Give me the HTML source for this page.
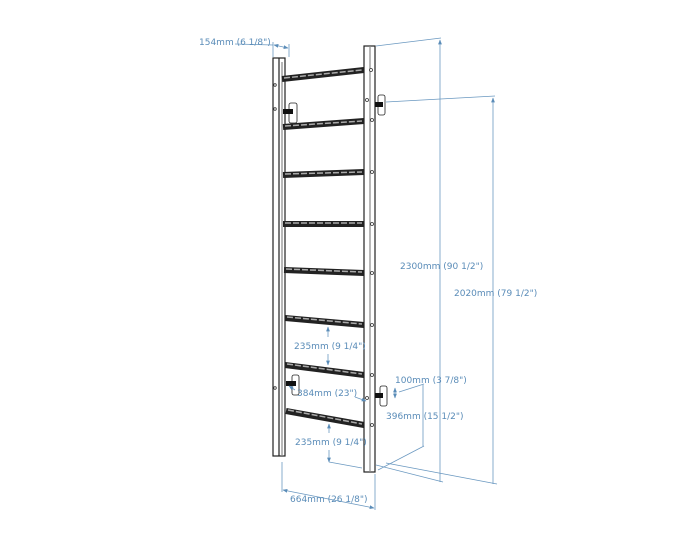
<!DOCTYPE html>
<html><head><meta charset="utf-8"><style>
html,body{margin:0;padding:0;background:#fff;width:687px;height:535px;overflow:hidden}
svg{display:block}
text{font-family:"DejaVu Sans","Liberation Sans",sans-serif;font-size:9px;fill:#5a8cb8}
</style></head><body>
<svg width="687" height="535" viewBox="0 0 687 535" xmlns="http://www.w3.org/2000/svg">
<defs>
<marker id="a" viewBox="0 0 10 10" refX="9" refY="5" markerWidth="6" markerHeight="6" orient="auto-start-reverse"><path d="M0,1 L10,5 L0,9 z" fill="#5a8cb8"/></marker>
</defs>
<g stroke="#222" fill="none" stroke-width="1.2">
<rect x="273" y="58" width="12" height="398" fill="#fff"/>
<line x1="279" y1="58" x2="279" y2="456"/>
<line x1="282" y1="62" x2="282" y2="456" stroke="#888"/>
<rect x="364" y="46" width="11" height="426" fill="#fff"/>
<line x1="370" y1="46" x2="370" y2="472" stroke="#888"/>
</g>
<g fill="#fff" stroke="#333" stroke-width="0.8">
<circle cx="371" cy="70" r="1.5"/><circle cx="372" cy="120" r="1.5"/><circle cx="372" cy="172" r="1.5"/><circle cx="372" cy="224" r="1.5"/><circle cx="372" cy="273" r="1.5"/><circle cx="372" cy="325" r="1.5"/><circle cx="372" cy="375" r="1.5"/><circle cx="372" cy="425" r="1.5"/>
<circle cx="367" cy="100" r="1.5"/><circle cx="367" cy="398" r="1.5"/>
<circle cx="275" cy="85" r="1.3"/><circle cx="275" cy="109" r="1.3"/><circle cx="275" cy="388" r="1.3"/>
</g>
<g stroke="#222" stroke-width="6" stroke-linecap="butt">
<line x1="282" y1="79" x2="364" y2="70"/>
<line x1="283" y1="127" x2="364" y2="121"/>
<line x1="283" y1="175" x2="364" y2="172"/>
<line x1="283" y1="224" x2="364" y2="224"/>
<line x1="284" y1="270" x2="364" y2="273"/>
<line x1="285" y1="318" x2="364" y2="325"/>
<line x1="285" y1="365" x2="364" y2="375"/>
<line x1="286" y1="411" x2="364" y2="425"/>
</g>
<g stroke="#aaa" stroke-width="1.5" stroke-dasharray="6 2">
<line x1="284" y1="78" x2="362" y2="70"/>
<line x1="285" y1="126" x2="362" y2="121"/>
<line x1="285" y1="174" x2="362" y2="172"/>
<line x1="285" y1="223" x2="362" y2="223"/>
<line x1="286" y1="269" x2="362" y2="272"/>
<line x1="287" y1="317" x2="362" y2="324"/>
<line x1="287" y1="364" x2="362" y2="374"/>
<line x1="288" y1="410" x2="362" y2="424"/>
</g>
<g stroke="#222" fill="#fff" stroke-width="0.8">
<rect x="289" y="103" width="8" height="20" rx="2"/>
<rect x="378" y="95" width="7" height="20" rx="2"/>
<rect x="292" y="375" width="7" height="20" rx="2"/>
<rect x="380" y="386" width="7" height="20" rx="2"/>
</g>
<g fill="#111">
<rect x="283" y="109" width="10" height="5"/>
<rect x="375" y="102" width="8" height="5"/>
<rect x="286" y="381" width="10" height="5"/>
<rect x="375" y="393" width="8" height="5"/>
</g>
<g stroke="#6a98c0" stroke-width="0.8" fill="none">
<line x1="273" y1="42" x2="273" y2="57"/>
<line x1="289" y1="44" x2="289" y2="57"/>
<line x1="274" y1="45" x2="288" y2="48" marker-start="url(#a)" marker-end="url(#a)"/>
<line x1="235" y1="44" x2="273" y2="45"/>
<line x1="376" y1="46" x2="441" y2="38"/>
<line x1="440" y1="482" x2="440" y2="40" marker-end="url(#a)"/>
<line x1="386" y1="102" x2="495" y2="96"/>
<line x1="493" y1="484" x2="493" y2="98" marker-end="url(#a)"/>
<line x1="376" y1="465" x2="443" y2="482"/>
<line x1="386" y1="463" x2="497" y2="484"/>
<line x1="282" y1="462" x2="282" y2="492"/>
<line x1="375" y1="474" x2="375" y2="510"/>
<line x1="283" y1="490" x2="374" y2="508" marker-start="url(#a)" marker-end="url(#a)"/>
<line x1="328" y1="337" x2="328" y2="327" marker-end="url(#a)"/>
<line x1="328" y1="354" x2="328" y2="365" marker-end="url(#a)"/>
<line x1="329" y1="433" x2="329" y2="424" marker-end="url(#a)"/>
<line x1="329" y1="450" x2="329" y2="462" marker-end="url(#a)"/>
<line x1="329" y1="462" x2="362" y2="468"/>
<line x1="295" y1="390" x2="289" y2="386" marker-end="url(#a)"/>
<line x1="355" y1="397" x2="366" y2="401" marker-end="url(#a)"/>
<line x1="395" y1="388" x2="395" y2="398" marker-start="url(#a)" marker-end="url(#a)"/>
<line x1="399" y1="392" x2="424" y2="384"/>
<line x1="423" y1="385" x2="423" y2="446"/>
<line x1="378" y1="470" x2="424" y2="446"/>
</g>
<text x="199" y="45">154mm (6 1/8")</text>
<text x="400" y="269">2300mm (90 1/2")</text>
<text x="454" y="296">2020mm (79 1/2")</text>
<text x="294" y="349">235mm (9 1/4")</text>
<text x="297" y="396">384mm (23")</text>
<text x="395" y="383">100mm (3 7/8")</text>
<text x="386" y="419">396mm (15 1/2")</text>
<text x="295" y="445">235mm (9 1/4")</text>
<text x="290" y="502">664mm (26 1/8")</text>
</svg>
</body></html>
